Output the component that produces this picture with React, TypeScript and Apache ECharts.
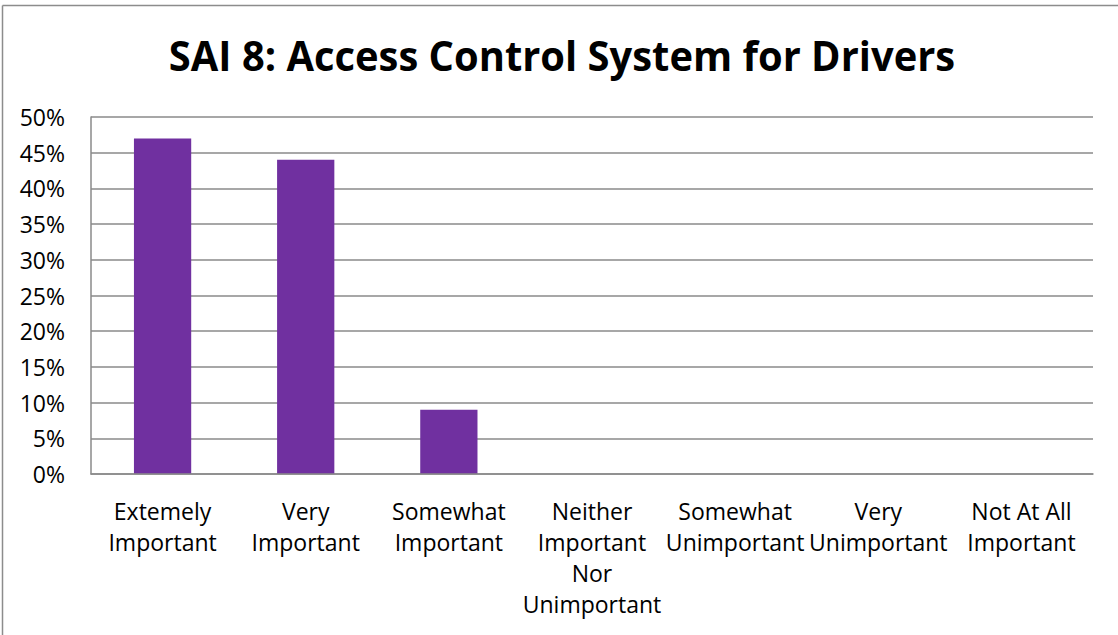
import React, { useEffect, useRef } from "react";
import * as echarts from "echarts";

const titleText = "SAI 8: Access Control System for Drivers";
const categories = [
  "Extemely\nImportant",
  "Very\nImportant",
  "Somewhat\nImportant",
  "Neither\nImportant\nNor\nUnimportant",
  "Somewhat\nUnimportant",
  "Very\nUnimportant",
  "Not At All\nImportant",
];
const values = [47, 44, 9, 0, 0, 0, 0];
const yMin = 0;
const yMax = 50;
const yStep = 5;

export default function App() {
  const ref = useRef<HTMLDivElement>(null);
  useEffect(() => {
    document.body.style.margin = "0";
    const chart = echarts.init(ref.current!, undefined, { renderer: "svg" });
    const font = "'Open Sans', 'Noto Sans', sans-serif";
    chart.setOption({
      animation: false,
      backgroundColor: "#ffffff",
      graphic: [
        {
          type: "line",
          shape: { x1: 2.5, y1: 5.5, x2: 1118, y2: 5.5 },
          style: { stroke: "#8c8c8c", lineWidth: 1.5 },
        },
        {
          type: "line",
          shape: { x1: 2.5, y1: 5.5, x2: 2.5, y2: 635 },
          style: { stroke: "#8c8c8c", lineWidth: 1.5 },
        },
        {
          type: "text",
          x: 562,
          y: 55,
          scaleX: 0.95,
          style: {
            text: titleText,
            fontFamily: font,
            fontWeight: "bold",
            fontSize: 42,
            fill: "#000",
            textAlign: "center",
            textVerticalAlign: "middle",
          },
        },
      ],
      grid: { left: 91, right: 25, top: 117, bottom: 161, containLabel: false },
      xAxis: {
        type: "category",
        data: categories,
        z: 5,
        axisLine: { show: true, lineStyle: { color: "#8a8a8a", width: 1.5 } },
        axisTick: { show: false },
        axisLabel: {
          interval: 0,
          margin: 21,
          color: "#000",
          fontFamily: font,
          fontSize: 23,
          lineHeight: 31,
        },
      },
      yAxis: {
        type: "value",
        min: yMin,
        max: yMax,
        interval: yStep,
        axisLine: { show: true, lineStyle: { color: "#8a8a8a", width: 1.5 } },
        axisTick: { show: false },
        splitLine: { show: true, lineStyle: { color: "#8a8a8a", width: 1.5 } },
        axisLabel: {
          margin: 26,
          color: "#000",
          fontFamily: font,
          fontSize: 23,
          formatter: "{value}%",
        },
      },
      series: [
        {
          type: "bar",
          data: values,
          barWidth: "40%",
          itemStyle: { color: "#7030A0", borderWidth: 0 },
        },
      ],
    });
    return () => chart.dispose();
  }, []);
  return <div ref={ref} style={{ width: 1118, height: 635 }} />;
}
